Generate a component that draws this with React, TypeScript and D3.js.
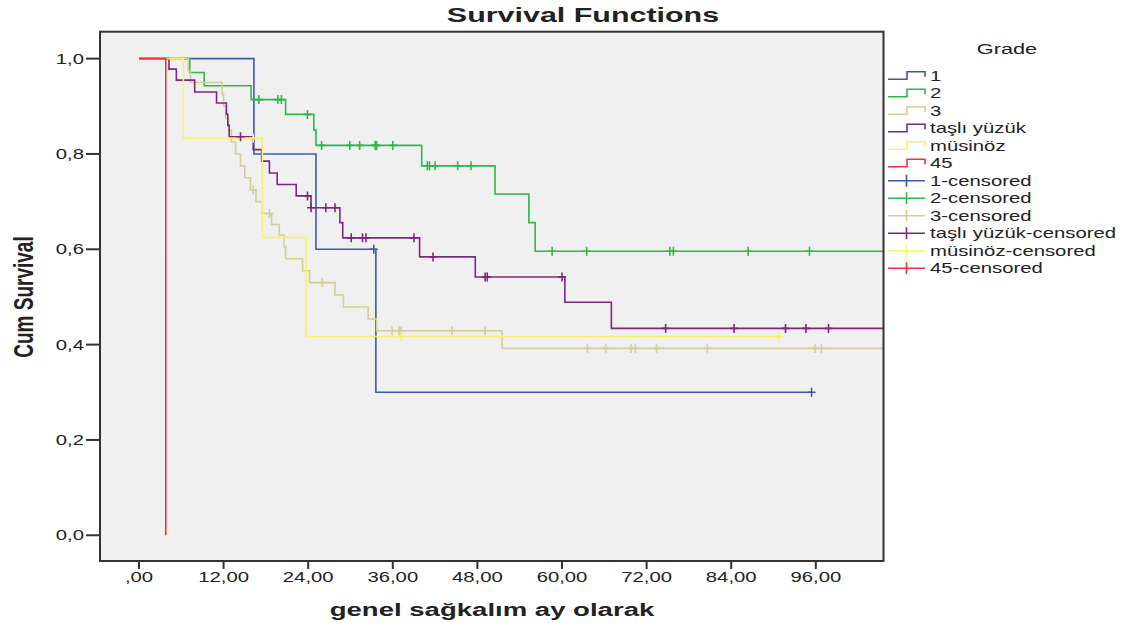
import React from "react";
import * as d3 from "d3";

// ---------- data ----------
const groupNames = ["1", "2", "3", "taşlı yüzük", "müsinöz", "45"];
const groupColors = ["#3E58AC", "#2EB848", "#D3CE97", "#7C287D", "#F7F36A", "#EF3338"];

// [time (months), cumulative survival after the drop]
const steps1: [number, number][] = [[16.3, 0.8], [25.1, 0.6], [33.6, 0.3]];
const steps2: [number, number][] = [
  [7.2, 0.971], [9.25, 0.943], [15.9, 0.914], [20.8, 0.883], [24.8, 0.85], [25.1, 0.818],
  [40.1, 0.775], [50.5, 0.716], [55.3, 0.656], [56.2, 0.596],
];
const steps3: [number, number][] = [
  [7.0, 0.975], [7.3, 0.95], [11.8, 0.925], [12.0, 0.9], [12.3, 0.875], [12.7, 0.85],
  [13.1, 0.825], [13.7, 0.8], [14.4, 0.775], [15.0, 0.75], [15.8, 0.725], [16.6, 0.7],
  [17.5, 0.675], [18.8, 0.652], [19.9, 0.63], [20.6, 0.605], [20.8, 0.58], [23.2, 0.555],
  [24.2, 0.53], [27.8, 0.504], [29.0, 0.479], [32.5, 0.454], [33.7, 0.429], [51.5, 0.392],
];
const steps4: [number, number][] = [
  [4.25, 0.978], [5.3, 0.955], [7.9, 0.93], [11.0, 0.907], [12.4, 0.883], [12.6, 0.86],
  [12.8, 0.836], [16.2, 0.809], [17.4, 0.785], [18.5, 0.76], [19.6, 0.736], [22.3, 0.712],
  [24.4, 0.687], [28.5, 0.656], [28.9, 0.624], [39.8, 0.584], [47.7, 0.542], [60.4, 0.489],
  [67.0, 0.434],
];
const steps5: [number, number][] = [[6.3, 0.833], [17.5, 0.625], [23.7, 0.417]];
const steps6: [number, number][] = [[3.8, 0]];

// censored times
const cens1 = [33.3, 95.4];
const cens2 = [17.0, 19.7, 20.2, 23.9, 25.9, 29.9, 31.3, 33.5, 33.7, 36.0, 40.9, 41.2, 42.0, 45.2, 47.1, 58.6, 63.5, 75.3, 75.8, 86.4, 95.1];
const cens3 = [16.2, 18.5, 26.0, 35.9, 36.9, 37.2, 44.4, 49.1, 63.6, 66.2, 69.8, 70.4, 73.4, 80.6, 95.9, 96.8];
const cens4 = [14.4, 23.9, 24.4, 26.5, 27.8, 30.1, 31.7, 32.2, 39.0, 41.7, 49.1, 49.4, 60.0, 74.7, 84.4, 91.7, 94.6, 97.8];
const cens5 = [16.2, 37.2, 90.7];
const cens6: number[] = [];

// last follow-up time of each group
const endTimes = [95.4, 110, 110, 110, 90.7, 3.8];

const xTicks = [0, 12, 24, 36, 48, 60, 72, 84, 96];
const xTickLabels = [",00", "12,00", "24,00", "36,00", "48,00", "60,00", "72,00", "84,00", "96,00"];
const yTicks = [0, 0.2, 0.4, 0.6, 0.8, 1.0];
const yTickLabels = ["0,0", "0,2", "0,4", "0,6", "0,8", "1,0"];

const allSteps = [steps1, steps2, steps3, steps4, steps5, steps6];
const allCens = [cens1, cens2, cens3, cens4, cens5, cens6];

// ---------- layout ----------
const W = 1146, H = 628;
const P = { left: 100, right: 883.5, top: 31.7, bottom: 561 };
const STRETCH = 1.45;
const FONT = "'Liberation Sans', Arial, sans-serif";

const x = d3.scaleLinear().domain([-5.53, 105.6]).range([P.left, P.right]);
const y = d3.scaleLinear().domain([-0.054, 1.0565]).range([P.bottom, P.top]);

function survAt(steps: [number, number][], t: number) {
  let s = 1;
  for (const [ti, si] of steps) if (ti <= t) s = si;
  return s;
}

function T(props: {
  x: number; y: number; size: number; anchor?: string; weight?: string; rotate?: boolean; children: React.ReactNode; fill?: string;
}) {
  const { x: tx, y: ty, size, anchor = "start", weight = "normal", rotate, children, fill = "#222" } = props;
  return (
    <text
      transform={`translate(${tx},${ty}) scale(${STRETCH},1)${rotate ? " rotate(-90)" : ""}`}
      fontSize={size}
      fontFamily={FONT}
      fontWeight={weight}
      textAnchor={anchor as any}
      fill={fill}
    >
      {children}
    </text>
  );
}

export default function App() {
  const line = d3
    .line<[number, number]>()
    .x((d) => x(d[0]))
    .y((d) => y(d[1]))
    .curve(d3.curveStepAfter);

  const curves = allSteps.map((steps, i) => {
    const pts: [number, number][] = [[0, 1], ...steps];
    const last = steps[steps.length - 1][1];
    if (endTimes[i] > steps[steps.length - 1][0]) pts.push([endTimes[i], last]);
    return line(pts) as string;
  });

  const legendY0 = 75.7;
  const legendDy = 17.5;

  return (
    <svg width={W} height={H} style={{ position: "absolute", left: 0, top: 0, background: "#fff" }}>
      <defs>
        <clipPath id="plotClip">
          <rect x={P.left} y={P.top} width={P.right - P.left} height={P.bottom - P.top} />
        </clipPath>
      </defs>
      <rect x={0} y={0} width={W} height={H} fill="#fff" />
      <rect x={P.left} y={P.top} width={P.right - P.left} height={P.bottom - P.top} fill="#F0F0F0" />

      {/* curves */}
      <g clipPath="url(#plotClip)">
        {curves.map((d, i) => (
          <path key={"c" + i} d={d} fill="none" stroke={groupColors[i]} strokeWidth={1.6} />
        ))}
        {allCens.map((cs, i) =>
          cs.map((t, j) => {
            const cx = x(t), cy = y(survAt(allSteps[i], t));
            return (
              <g key={`m${i}-${j}`} stroke={groupColors[i]} strokeWidth={1.6}>
                <line x1={cx - 4} x2={cx + 4} y1={cy} y2={cy} />
                <line x1={cx} x2={cx} y1={cy - 4.5} y2={cy + 4.5} />
              </g>
            );
          })
        )}
      </g>

      {/* frame */}
      <rect x={P.left} y={P.top} width={P.right - P.left} height={P.bottom - P.top} fill="none" stroke="#333" strokeWidth={2} />

      {/* y axis */}
      {yTicks.map((v, i) => (
        <g key={"yt" + i}>
          <line x1={86} x2={P.left} y1={y(v)} y2={y(v)} stroke="#333" strokeWidth={2} />
          <T x={84} y={y(v) + 5} size={14} anchor="end">{yTickLabels[i]}</T>
        </g>
      ))}
      {/* x axis */}
      {xTicks.map((v, i) => (
        <g key={"xt" + i}>
          <line x1={x(v)} x2={x(v)} y1={P.bottom} y2={P.bottom + 8} stroke="#333" strokeWidth={2} />
          <T x={x(v)} y={582} size={14} anchor="middle">{xTickLabels[i]}</T>
        </g>
      ))}

      {/* titles */}
      <T x={583} y={22} size={21} weight="bold" anchor="middle">Survival Functions</T>
      <T x={492} y={616} size={19} weight="bold" anchor="middle">genel sağkalım ay olarak</T>
      <T x={33} y={297} size={19} weight="bold" anchor="middle" rotate>Cum Survival</T>

      {/* legend */}
      <T x={1007} y={54} size={15} anchor="middle">Grade</T>
      {groupNames.map((g, i) => {
        const ly = legendY0 + i * legendDy;
        return (
          <g key={"ls" + i}>
            <path
              d={`M888,${ly + 3.5}H907V${ly - 4}H925V${ly + 1}`}
              fill="none"
              stroke={groupColors[i]}
              strokeWidth={1.6}
            />
            <T x={930} y={ly + 5} size={14}>{g}</T>
          </g>
        );
      })}
      {groupNames.map((g, i) => {
        const ly = legendY0 + (i + 6) * legendDy;
        return (
          <g key={"lc" + i}>
            <line x1={888} x2={925} y1={ly} y2={ly} stroke={groupColors[i]} strokeWidth={1.6} />
            <line x1={906.5} x2={906.5} y1={ly - 6} y2={ly + 6} stroke={groupColors[i]} strokeWidth={1.6} />
            <T x={930} y={ly + 5} size={14}>{g + "-censored"}</T>
          </g>
        );
      })}
    </svg>
  );
}
